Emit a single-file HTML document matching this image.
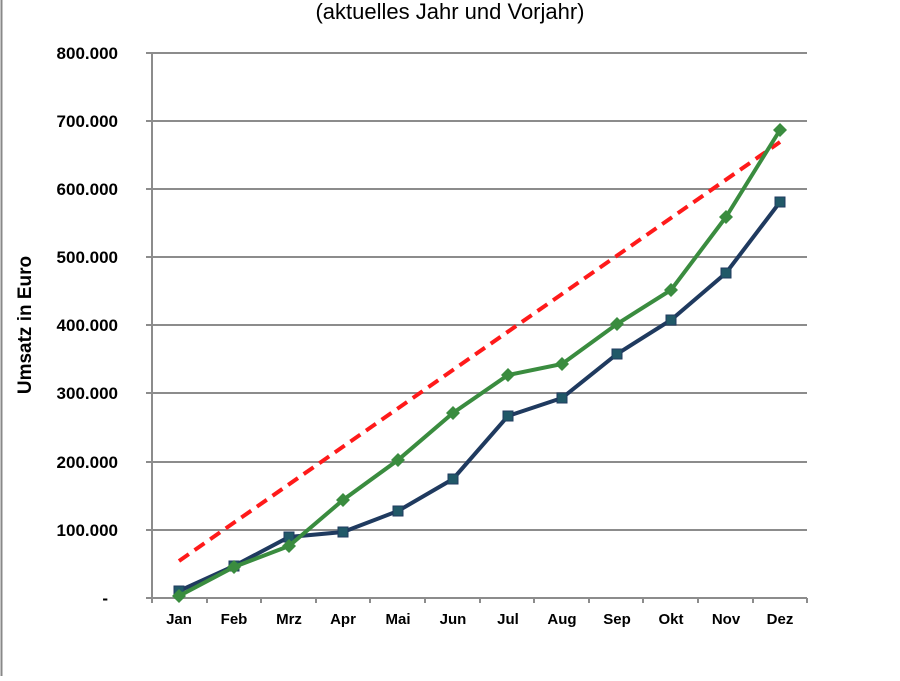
<!DOCTYPE html>
<html><head><meta charset="utf-8"><style>
body{margin:0;background:#fff;}
</style></head><body>
<svg width="900" height="676" xmlns="http://www.w3.org/2000/svg" font-family="Liberation Sans, Arial, sans-serif">
<rect x="0" y="0" width="900" height="676" fill="#fff"/>
<line x1="1.5" y1="0" x2="1.5" y2="676" stroke="#888" stroke-width="2"/>
<text x="450" y="19" font-size="22" text-anchor="middle" fill="#000">(aktuelles Jahr und Vorjahr)</text>
<g stroke="#8c8c8c" stroke-width="2">
<line x1="146" y1="53" x2="807" y2="53"/>
<line x1="146" y1="121" x2="807" y2="121"/>
<line x1="146" y1="189" x2="807" y2="189"/>
<line x1="146" y1="257" x2="807" y2="257"/>
<line x1="146" y1="325" x2="807" y2="325"/>
<line x1="146" y1="393" x2="807" y2="393"/>
<line x1="146" y1="462" x2="807" y2="462"/>
<line x1="146" y1="530" x2="807" y2="530"/>
<line x1="146" y1="598" x2="807" y2="598"/>
<line x1="152" y1="53" x2="152" y2="603"/>
<line x1="207" y1="598" x2="207" y2="603"/><line x1="261" y1="598" x2="261" y2="603"/>
<line x1="316" y1="598" x2="316" y2="603"/><line x1="370" y1="598" x2="370" y2="603"/>
<line x1="425" y1="598" x2="425" y2="603"/><line x1="480" y1="598" x2="480" y2="603"/>
<line x1="534" y1="598" x2="534" y2="603"/><line x1="589" y1="598" x2="589" y2="603"/>
<line x1="643" y1="598" x2="643" y2="603"/><line x1="698" y1="598" x2="698" y2="603"/>
<line x1="753" y1="598" x2="753" y2="603"/><line x1="807" y1="598" x2="807" y2="603"/>
</g>
<g font-size="17" font-weight="bold" text-anchor="end" fill="#000">
<text x="118" y="59">800.000</text><text x="118" y="127">700.000</text>
<text x="118" y="195">600.000</text><text x="118" y="263">500.000</text>
<text x="118" y="331">400.000</text><text x="118" y="399">300.000</text>
<text x="118" y="468">200.000</text><text x="118" y="536">100.000</text>
<text x="108" y="604">-</text>
</g>
<g font-size="15" font-weight="bold" text-anchor="middle" fill="#000">
<text x="179" y="624">Jan</text><text x="234" y="624">Feb</text><text x="289" y="624">Mrz</text>
<text x="343" y="624">Apr</text><text x="398" y="624">Mai</text><text x="453" y="624">Jun</text>
<text x="508" y="624">Jul</text><text x="562" y="624">Aug</text><text x="617" y="624">Sep</text>
<text x="671" y="624">Okt</text><text x="726" y="624">Nov</text><text x="780" y="624">Dez</text>
</g>
<text transform="translate(31,325) rotate(-90)" font-size="19" font-weight="bold" text-anchor="middle">Umsatz in Euro</text>
<line x1="179" y1="561" x2="780" y2="142" stroke="#ff1a1a" stroke-width="4" stroke-dasharray="12,7"/>
<polyline fill="none" stroke="#1f3a5f" stroke-width="4" points="179,591 234,566 289,537 343,532 398,511 453,479 508,416 562,398 617,354 671,320 726,273 780,202"/>
<g fill="#215968" stroke="#1f3a5f" stroke-width="1">
<rect x="174" y="586" width="10" height="10"/><rect x="229" y="561" width="10" height="10"/>
<rect x="284" y="532" width="10" height="10"/><rect x="338" y="527" width="10" height="10"/>
<rect x="393" y="506" width="10" height="10"/><rect x="448" y="474" width="10" height="10"/>
<rect x="503" y="411" width="10" height="10"/><rect x="557" y="393" width="10" height="10"/>
<rect x="612" y="349" width="10" height="10"/><rect x="666" y="315" width="10" height="10"/>
<rect x="721" y="268" width="10" height="10"/><rect x="775" y="197" width="10" height="10"/>
</g>
<polyline fill="none" stroke="#3a8c3f" stroke-width="4" points="179,596 234,567 289,546 343,500 398,460 453,413 508,375 562,364 617,324 671,290 726,217 780,130"/>
<g fill="#3a8c3f">
<polygon points="179,589 186,596 179,603 172,596"/><polygon points="234,560 241,567 234,574 227,567"/>
<polygon points="289,539 296,546 289,553 282,546"/><polygon points="343,493 350,500 343,507 336,500"/>
<polygon points="398,453 405,460 398,467 391,460"/><polygon points="453,406 460,413 453,420 446,413"/>
<polygon points="508,368 515,375 508,382 501,375"/><polygon points="562,357 569,364 562,371 555,364"/>
<polygon points="617,317 624,324 617,331 610,324"/><polygon points="671,283 678,290 671,297 664,290"/>
<polygon points="726,210 733,217 726,224 719,217"/><polygon points="780,123 787,130 780,137 773,130"/>
</g>
</svg>
</body></html>
